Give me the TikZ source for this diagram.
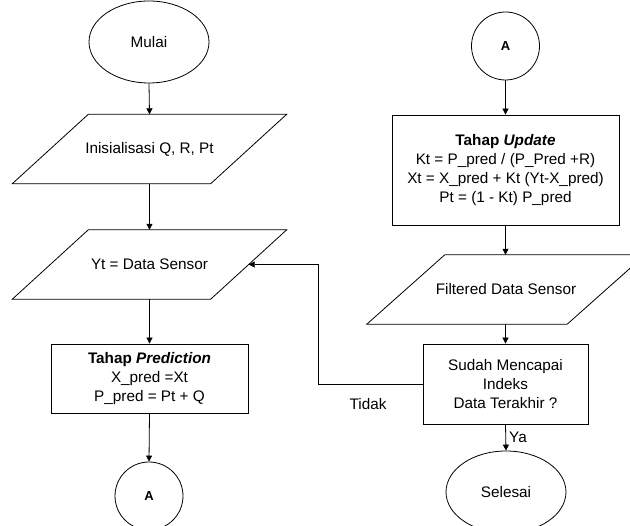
\documentclass[tikz,border=0pt]{standalone}
\usepackage{fontspec}
\setmainfont{Liberation Sans}
\usetikzlibrary{shapes.geometric,arrows.meta,calc}
\newcommand{\iobox}[2]{\draw[line] ($(#1.north west)+(#2,0)$) -- ($(#1.north east)+(#2,0)$) -- ($(#1.south east)-(#2,0)$) -- ($(#1.south west)-(#2,0)$) -- cycle;}
\begin{document}
\begin{tikzpicture}[x=1pt,y=-1pt,
  font=\fontsize{15.3}{19}\selectfont,
  line/.style={draw=black, line width=0.8pt},
  arr/.style={line, -{Triangle[width=6pt,length=6pt]}},
  term/.style={line, ellipse, minimum width=120pt, minimum height=82pt, inner sep=0pt},
  conn/.style={line, circle, minimum size=68pt, inner sep=0pt, font=\fontsize{13}{15}\selectfont\bfseries},
  io/.style={minimum height=69pt, minimum width=198pt, inner sep=0pt},
  proc/.style={line, rectangle, inner sep=0pt, align=center},
  lbl/.style={inner sep=0pt}]
\clip (0,0) rectangle (630,526);
\node[term] (start) at (149,42) {Mulai};
\node[io] (p1) at (149.5,149) {Inisialisasi Q, R, Pt};
\iobox{p1}{38}
\node[io] (p2) at (149.5,264.5) {Yt = Data Sensor};
\iobox{p2}{38}
\node[proc, minimum width=197pt, minimum height=69pt] (pred) at (149.5,378.5)
  {\textbf{Tahap \textit{Prediction}}\\X\_pred =Xt\\P\_pred = Pt + Q};
\node[conn] (a1) at (149,496) {A};
\node[conn] (a2) at (505.5,46) {A};
\node[proc, minimum width=227pt, minimum height=110pt] (upd) at (505.5,170)
  {\textbf{Tahap \textit{Update}}\\Kt = P\_pred / (P\_Pred +R)\\Xt = X\_pred + Kt (Yt-X\_pred)\\Pt = (1 - Kt) P\_pred};
\node[io, minimum width=200pt] (p3) at (506,289.5) {Filtered Data Sensor};
\iobox{p3}{39}
\node[proc, minimum width=165pt, minimum height=80pt] (dec) at (505.5,384)
  {Sudah Mencapai\\Indeks\\Data Terakhir ?};
\node[term] (end) at (506,492) {Selesai};
\coordinate (turn) at (318,384);
\draw[arr] (start.south) -- (p1.north);
\draw[arr] (p1.south) -- (p2.north);
\draw[arr] (p2.south) -- (pred.north);
\draw[arr] (pred.south) -- (a1.north);
\draw[arr] (a2.south) -- (upd.north);
\draw[arr] (upd.south) -- (upd.south |- p3.north);
\draw[arr] (dec.north |- p3.south) -- (dec.north);
\draw[arr] (dec.south) -- (end.north);
\draw[arr] (dec.west) -- (turn) |- (p2.east);
\node[lbl] (tidak) at (368,404) {Tidak};
\node[lbl, anchor=west] (ya) at (509,437) {Ya};
\end{tikzpicture}
\end{document}
